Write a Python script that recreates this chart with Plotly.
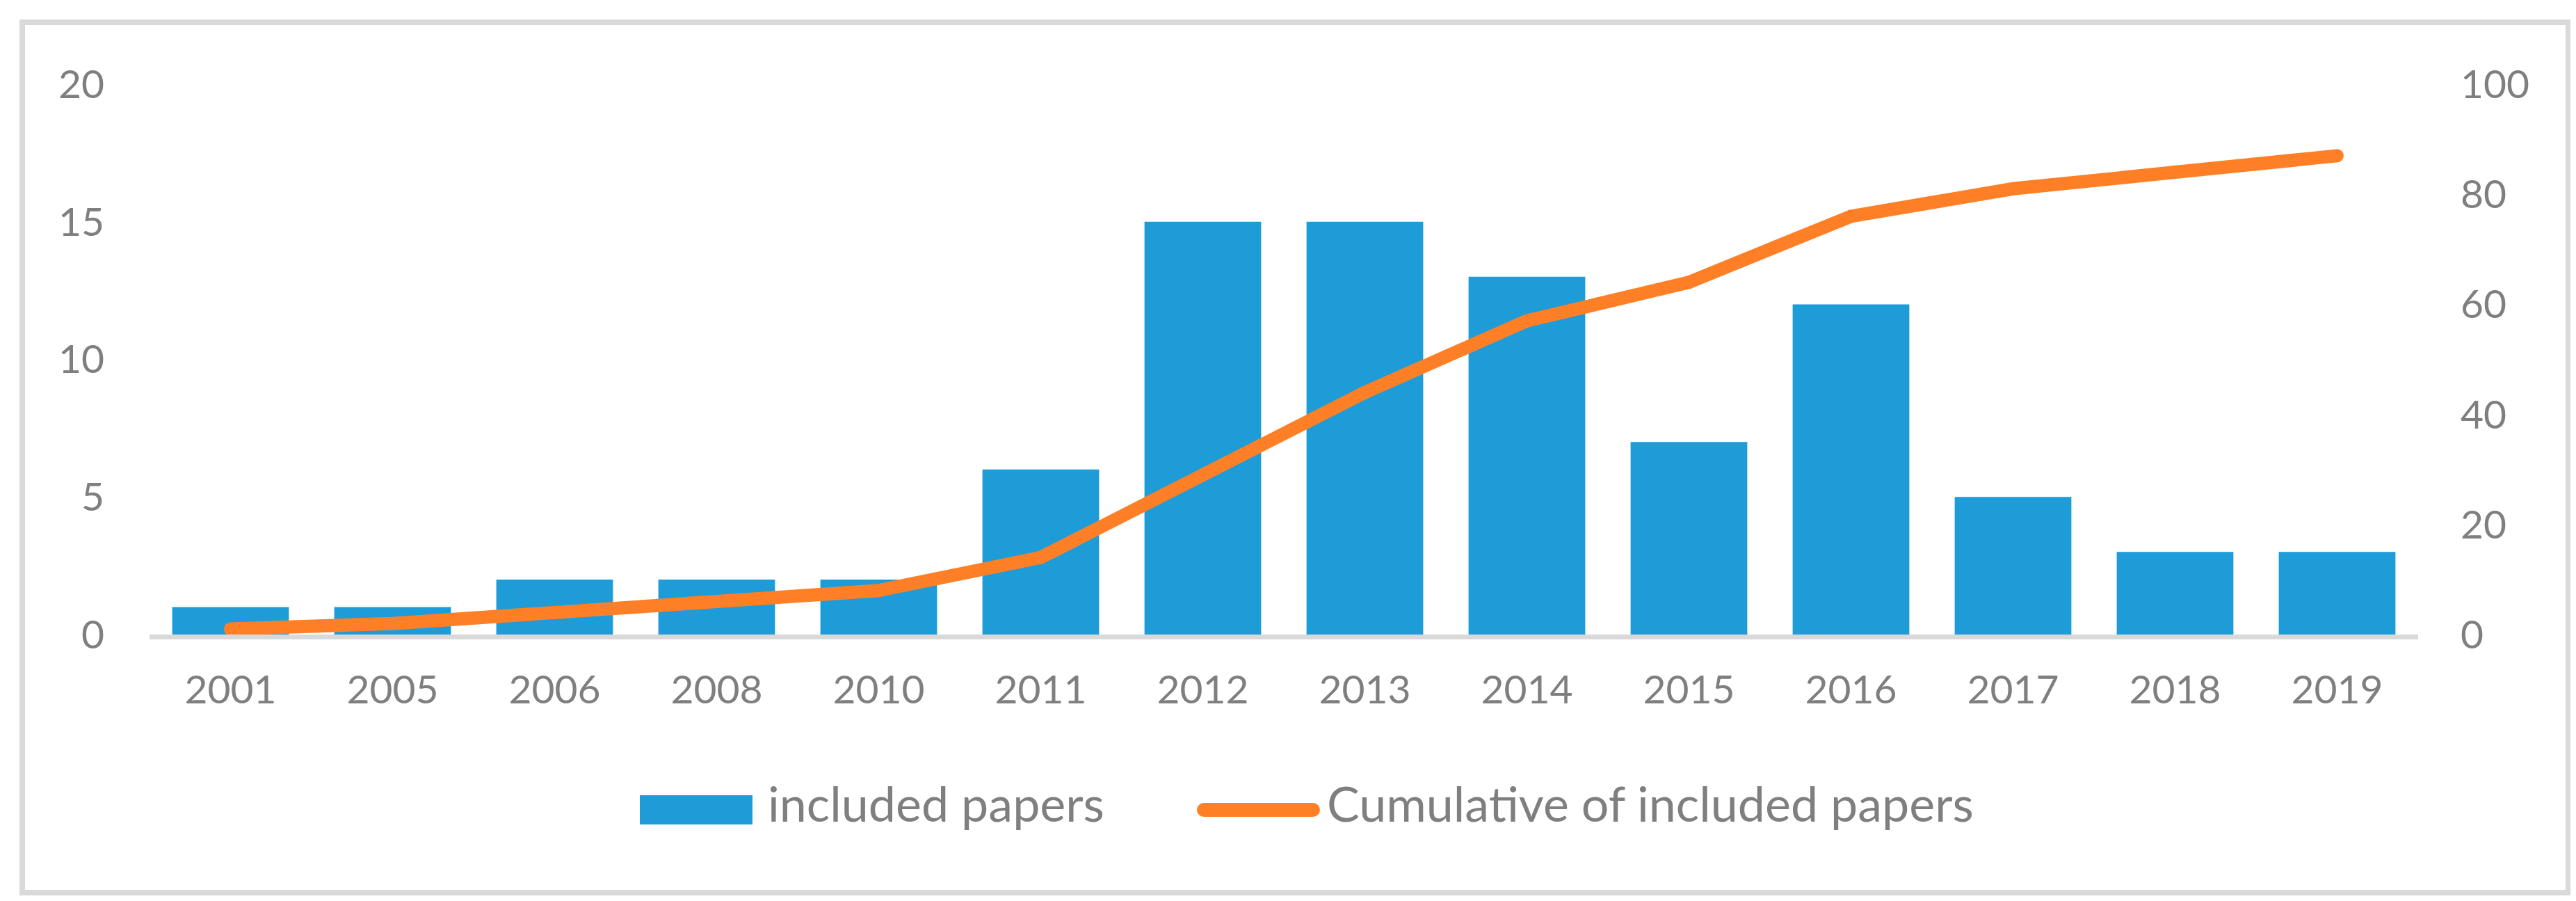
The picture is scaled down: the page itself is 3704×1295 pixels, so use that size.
import plotly.graph_objects as go

# ---- data ----
years = ["2001", "2005", "2006", "2008", "2010", "2011", "2012", "2013",
         "2014", "2015", "2016", "2017", "2018", "2019"]
included_papers = [1, 1, 2, 2, 2, 6, 15, 15, 13, 7, 12, 5, 3, 3]
cumulative_papers = [1, 2, 4, 6, 8, 14, 29, 44, 57, 64, 76, 81, 84, 87]
left_ticks = [0, 5, 10, 15, 20]
right_ticks = [0, 20, 40, 60, 80, 100]
bar_name = "included papers"
line_name = "Cumulative of included papers"

# ---- style ----
W, H = 3704, 1295
PL, PR, PT, PB = 207, 3469, 113, 904  # plot area in pixels
BLUE = "#1e9cd8"
ORANGE = "#ff7f27"
GRAY = "#7f7f7f"
LIGHT = "#d9d9d9"
FONT = "Lato"


def px_x(x):
    return (x - PL) / (PR - PL)


def px_y(y):
    return (PB - y) / (PB - PT)


fig = go.Figure()
fig.add_trace(go.Bar(x=years, y=included_papers, name=bar_name,
                     marker=dict(color=BLUE, line=dict(width=0)),
                     showlegend=False))
fig.add_trace(go.Scatter(x=years, y=cumulative_papers, name=line_name,
                         yaxis="y2", mode="lines+markers",
                         line=dict(color=ORANGE, width=19),
                         marker=dict(color=ORANGE, size=19, line=dict(width=0)),
                         showlegend=False))

shapes = [
    # outer chart border
    dict(type="rect", xref="paper", yref="paper",
         x0=px_x(24), x1=px_x(3685), y0=px_y(24), y1=px_y(1275),
         line=dict(color=LIGHT, width=8), fillcolor="rgba(0,0,0,0)", layer="below"),
    # legend: bar swatch
    dict(type="rect", xref="paper", yref="paper",
         x0=px_x(912), x1=px_x(1074), y0=px_y(1135), y1=px_y(1177),
         line=dict(width=0), fillcolor=BLUE),
    # legend: line swatch
    dict(type="line", xref="paper", yref="paper",
         x0=px_x(1723), x1=px_x(1880), y0=px_y(1156), y1=px_y(1156),
         line=dict(color=ORANGE, width=20)),
    dict(type="circle", xref="paper", yref="paper",
         x0=px_x(1713), x1=px_x(1733), y0=px_y(1146), y1=px_y(1166),
         line=dict(width=0), fillcolor=ORANGE),
    dict(type="circle", xref="paper", yref="paper",
         x0=px_x(1870), x1=px_x(1890), y0=px_y(1146), y1=px_y(1166),
         line=dict(width=0), fillcolor=ORANGE),
]

annotations = [
    dict(text=bar_name, xref="paper", yref="paper", x=px_x(1094), y=px_y(1146),
         xanchor="left", yanchor="middle", showarrow=False,
         font=dict(family=FONT, size=70, color=GRAY)),
    dict(text=line_name, xref="paper", yref="paper", x=px_x(1898), y=px_y(1146),
         xanchor="left", yanchor="middle", showarrow=False,
         font=dict(family=FONT, size=70, color=GRAY)),
]

fig.update_layout(
    width=W, height=H,
    margin=dict(l=PL, r=W - PR, t=PT, b=H - PB, pad=0),
    paper_bgcolor="white", plot_bgcolor="white",
    bargap=0.28,
    font=dict(family=FONT, size=57, color=GRAY),
    shapes=shapes, annotations=annotations,
    xaxis=dict(type="category", range=[-0.5, len(years) - 0.5],
               showline=True, linecolor=LIGHT, linewidth=7,
               showgrid=False, zeroline=False, ticks="",
               tickfont=dict(family=FONT, size=57, color=GRAY),
               ticklabelstandoff=24),
    yaxis=dict(range=[0, 20], tickvals=left_ticks, showgrid=False,
               zeroline=False, showline=False, ticks="",
               tickfont=dict(family=FONT, size=57, color=GRAY),
               ticklabelstandoff=64),
    yaxis2=dict(range=[0, 100], tickvals=right_ticks, overlaying="y",
                side="right", showgrid=False, zeroline=False, showline=False,
                ticks="", tickfont=dict(family=FONT, size=57, color=GRAY),
                ticklabelstandoff=60),
)

fig.write_html("out.html")
